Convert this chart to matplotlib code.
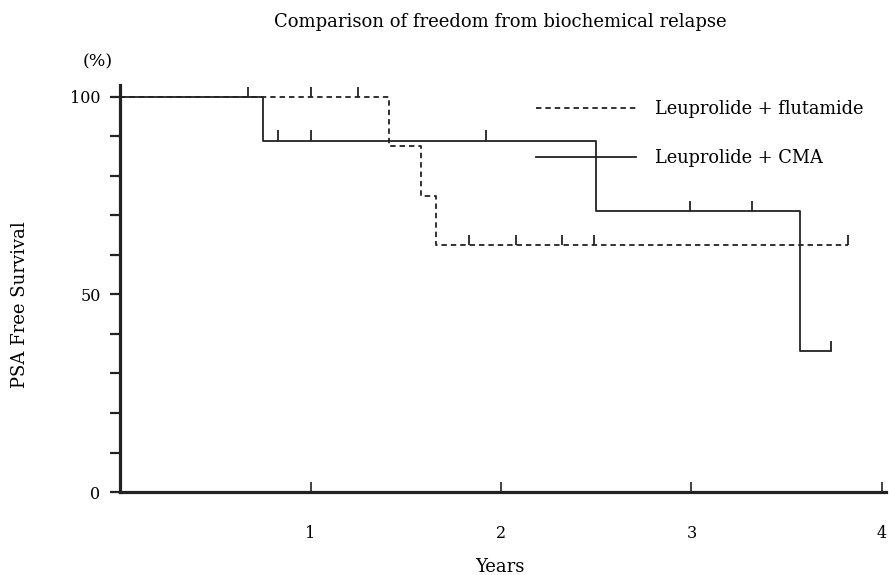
import matplotlib
matplotlib.use("Agg")
import matplotlib.pyplot as plt

# Kaplan-Meier steps
cma_times = [0, 0.75, 2.5, 3.57, 3.73]
cma_surv = [100, 88.9, 71.1, 35.6, 35.6]
cma_censor_t = [0.67, 0.83, 1.0, 1.92, 2.99, 3.32, 3.73]
cma_censor_s = [100, 88.9, 88.9, 88.9, 71.1, 71.1, 35.6]

flu_times = [0, 1.41, 1.58, 1.66, 3.82]
flu_surv = [100, 87.5, 75, 62.5, 62.5]
flu_censor_t = [1.0, 1.25, 1.83, 2.08, 2.32, 2.49, 3.82]
flu_censor_s = [100, 100, 62.5, 62.5, 62.5, 62.5, 62.5]

x_ticks = [1, 2, 3, 4]
y_ticks = list(range(0, 101, 10))
y_labels = ["0", "", "", "", "", "50", "", "", "", "", "100"]

plt.rcParams["font.family"] = ["DejaVu Serif"]

fig = plt.figure(figsize=(8.89, 5.75), dpi=100)
ax = fig.add_axes([0.135, 0.1443, 0.8614, 0.708])

ax.step(flu_times, flu_surv, where="post", color="#222222", lw=1.3,
        linestyle=(0, (3, 2.2)), label="Leuprolide + flutamide")
ax.step(cma_times, cma_surv, where="post", color="#222222", lw=1.3,
        label="Leuprolide + CMA")

tick_h = 2.6
ax.vlines(cma_censor_t, cma_censor_s, [s + tick_h for s in cma_censor_s],
          color="#222222", lw=1.3)
ax.vlines(flu_censor_t, flu_censor_s, [s + tick_h for s in flu_censor_s],
          color="#222222", lw=1.3)

ax.set_xlim(0, 4.02)
ax.set_ylim(0, 103)
for side in ["top", "right"]:
    ax.spines[side].set_visible(False)
for side in ["left", "bottom"]:
    ax.spines[side].set_linewidth(2.3)
    ax.spines[side].set_color("#222222")

ax.set_xticks(x_ticks)
ax.set_xticklabels([str(t) for t in x_ticks])
ax.tick_params(axis="x", direction="in", length=7, width=1.2, pad=24,
               labelsize=11.5, color="#222222")
ax.set_yticks(y_ticks)
ax.set_yticklabels(y_labels)
ax.tick_params(axis="y", direction="out", length=7, width=1.6, pad=7,
               labelsize=11.5, color="#222222")

fig.text(0.5625, 0.014, "Years", fontsize=13, ha="center", va="center")
fig.text(0.022, 0.47, "PSA Free Survival", rotation=90, fontsize=13,
         ha="center", va="center")
fig.text(0.11, 0.892, "(%)", fontsize=12.5, ha="center", va="center")
fig.text(0.563, 0.962, "Comparison of freedom from biochemical relapse",
         fontsize=13, ha="center", va="center")

ax.legend(loc="upper left", bbox_to_anchor=(536 / 889, 1 - 100 / 575),
          bbox_transform=fig.transFigure, frameon=False, fontsize=12.8,
          handlelength=5.6, handletextpad=1.1, labelspacing=1.75,
          borderpad=0, borderaxespad=0)

fig.savefig("out.png", dpi=100)
